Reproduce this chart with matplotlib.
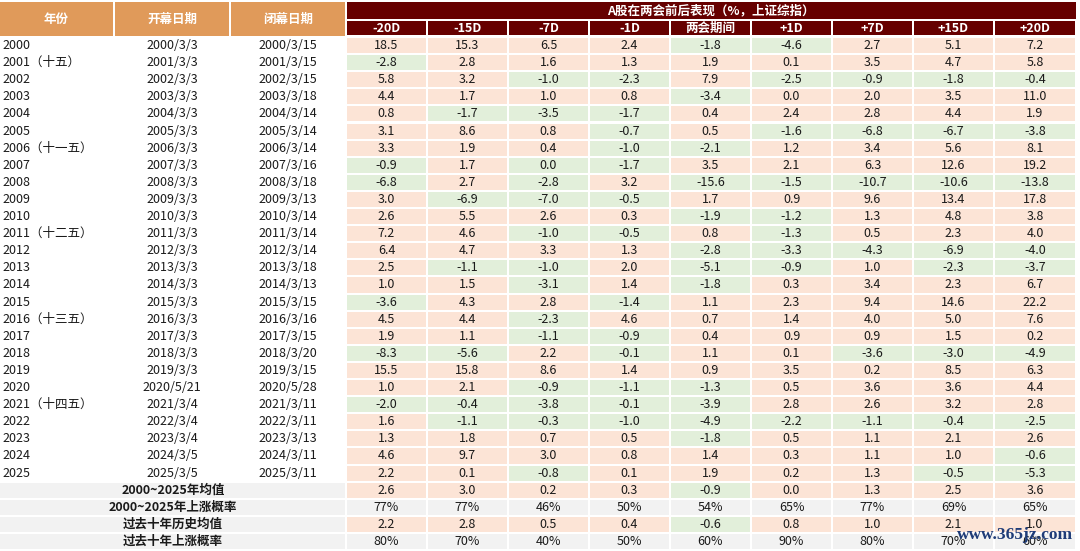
import matplotlib
matplotlib.use("Agg")
import matplotlib.pyplot as plt
from matplotlib.patches import Rectangle

plt.rcParams['font.family'] = ['Noto Sans CJK SC', 'DejaVu Sans']

# ---------------- data ----------------
title = "A股在两会前后表现（%，上证综指）"
left_headers = ["年份", "开幕日期", "闭幕日期"]
col_headers = ["-20D", "-15D", "-7D", "-1D", "两会期间", "+1D", "+7D", "+15D", "+20D"]

years = ["2000", "2001（十五）", "2002", "2003", "2004", "2005", "2006（十一五）", "2007",
         "2008", "2009", "2010", "2011（十二五）", "2012", "2013", "2014", "2015",
         "2016（十三五）", "2017", "2018", "2019", "2020", "2021（十四五）", "2022",
         "2023", "2024", "2025"]
open_dates = ["2000/3/3", "2001/3/3", "2002/3/3", "2003/3/3", "2004/3/3", "2005/3/3",
              "2006/3/3", "2007/3/3", "2008/3/3", "2009/3/3", "2010/3/3", "2011/3/3",
              "2012/3/3", "2013/3/3", "2014/3/3", "2015/3/3", "2016/3/3", "2017/3/3",
              "2018/3/3", "2019/3/3", "2020/5/21", "2021/3/4", "2022/3/4", "2023/3/4",
              "2024/3/5", "2025/3/5"]
close_dates = ["2000/3/15", "2001/3/15", "2002/3/15", "2003/3/18", "2004/3/14", "2005/3/14",
               "2006/3/14", "2007/3/16", "2008/3/18", "2009/3/13", "2010/3/14", "2011/3/14",
               "2012/3/14", "2013/3/18", "2014/3/13", "2015/3/15", "2016/3/16", "2017/3/15",
               "2018/3/20", "2019/3/15", "2020/5/28", "2021/3/11", "2022/3/11", "2023/3/13",
               "2024/3/11", "2025/3/11"]

m20 = [18.5, -2.8, 5.8, 4.4, 0.8, 3.1, 3.3, -0.9, -6.8, 3.0, 2.6, 7.2, 6.4, 2.5, 1.0, -3.6,
       4.5, 1.9, -8.3, 15.5, 1.0, -2.0, 1.6, 1.3, 4.6, 2.2]
m15 = [15.3, 2.8, 3.2, 1.7, -1.7, 8.6, 1.9, 1.7, 2.7, -6.9, 5.5, 4.6, 4.7, -1.1, 1.5, 4.3,
       4.4, 1.1, -5.6, 15.8, 2.1, -0.4, -1.1, 1.8, 9.7, 0.1]
m7 = [6.5, 1.6, -1.0, 1.0, -3.5, 0.8, 0.4, -0.04, -2.8, -7.0, 2.6, -1.0, 3.3, -1.0, -3.1, 2.8,
      -2.3, -1.1, 2.2, 8.6, -0.9, -3.8, -0.3, 0.7, 3.0, -0.8]
m1 = [2.4, 1.3, -2.3, 0.8, -1.7, -0.7, -1.0, -1.7, 3.2, -0.5, 0.3, -0.5, 1.3, 2.0, 1.4, -1.4,
      4.6, -0.9, -0.1, 1.4, -1.1, -0.1, -1.0, 0.5, 0.8, 0.1]
during = [-1.8, 1.9, 7.9, -3.4, 0.4, 0.5, -2.1, 3.5, -15.6, 1.7, -1.9, 0.8, -2.8, -5.1, -1.8, 1.1,
          0.7, 0.4, 1.1, 0.9, -1.3, -3.9, -4.9, -1.8, 1.4, 1.9]
p1 = [-4.6, 0.1, -2.5, 0.0, 2.4, -1.6, 1.2, 2.1, -1.5, 0.9, -1.2, -1.3, -3.3, -0.9, 0.3, 2.3,
      1.4, 0.9, 0.1, 3.5, 0.5, 2.8, -2.2, 0.5, 0.3, 0.2]
p7 = [2.7, 3.5, -0.9, 2.0, 2.8, -6.8, 3.4, 6.3, -10.7, 9.6, 1.3, 0.5, -4.3, 1.0, 3.4, 9.4,
      4.0, 0.9, -3.6, 0.2, 3.6, 2.6, -1.1, 1.1, 1.1, 1.3]
p15 = [5.1, 4.7, -1.8, 3.5, 4.4, -6.7, 5.6, 12.6, -10.6, 13.4, 4.8, 2.3, -6.9, -2.3, 2.3, 14.6,
       5.0, 1.5, -3.0, 8.5, 3.6, 3.2, -0.4, 2.1, 1.0, -0.5]
p20 = [7.2, 5.8, -0.4, 11.0, 1.9, -3.8, 8.1, 19.2, -13.8, 17.8, 3.8, 4.0, -4.0, -3.7, 6.7, 22.2,
       7.6, 0.2, -4.9, 6.3, 4.4, 2.8, -2.5, 2.6, -0.6, -5.3]

stat_labels = ["2000~2025年均值", "2000~2025年上涨概率", "过去十年历史均值", "过去十年上涨概率"]
mean_all = [2.6, 3.0, 0.2, 0.3, -0.9, 0.0, 1.3, 2.5, 3.6]
prob_all = [77, 77, 46, 50, 54, 65, 77, 69, 65]
mean_10y = [2.2, 2.8, 0.5, 0.4, -0.6, 0.8, 1.0, 2.1, 1.0]
prob_10y = [80, 70, 40, 50, 60, 90, 80, 70, 60]

watermark = "www.365jz.com"

# ---------------- style ----------------
ORANGE = "#E09A5A"
DARKRED = "#660000"
PINK = "#FCE4D6"
GREEN = "#E2EFDA"
GRAY = "#F2F2F2"
TXT = "#1a1a1a"
FS = 9

col_edges = [0, 114, 230, 346, 427, 508, 589, 670, 751, 832, 913, 994, 1076]
row_top = 37.0
row_h = 17.1
g = 1.0  # half gap

fig = plt.figure(figsize=(10.8, 5.51), dpi=100)
ax = fig.add_axes([0, 0, 1, 1])
ax.set_xlim(0, 1080)
ax.set_ylim(551, 0)
ax.axis("off")


def rect(x0, y0, x1, y1, color):
    ax.add_patch(Rectangle((x0, y0), x1 - x0, y1 - y0, facecolor=color, edgecolor="none"))


def fmt(v):
    s = f"{v:.1f}"
    return "0.0" if s == "-0.0" else s


# header
for i, h in enumerate(left_headers):
    x0, x1 = col_edges[i] + (0 if i == 0 else g), col_edges[i + 1] - g
    rect(x0, 2, x1, 35.5, ORANGE)
    ax.text((x0 + x1) / 2, 19, h, ha="center", va="center", color="white",
            fontsize=FS, fontweight="bold")
rect(col_edges[3] + g, 2, col_edges[-1], 19.3, DARKRED)
ax.text((col_edges[3] + col_edges[-1]) / 2, 10.5, title, ha="center", va="center",
        color="white", fontsize=FS, fontweight="bold")
for j, h in enumerate(col_headers):
    x0, x1 = col_edges[3 + j] + g, col_edges[4 + j] - g
    rect(x0, 20.8, x1, 35.5, DARKRED)
    ax.text((x0 + x1) / 2, 28.3, h, ha="center", va="center", color="white",
            fontsize=FS, fontweight="bold")

cols = [m20, m15, m7, m1, during, p1, p7, p15, p20]

# year rows
for r in range(len(years)):
    y0 = row_top + r * row_h + g
    y1 = row_top + (r + 1) * row_h - g
    yc = (y0 + y1) / 2
    ax.text(2, yc, years[r], ha="left", va="center", fontsize=FS, color=TXT)
    ax.text((col_edges[1] + col_edges[2]) / 2, yc, open_dates[r], ha="center", va="center",
            fontsize=FS, color=TXT)
    ax.text((col_edges[2] + col_edges[3]) / 2, yc, close_dates[r], ha="center", va="center",
            fontsize=FS, color=TXT)
    for j, c in enumerate(cols):
        v = c[r]
        x0, x1 = col_edges[3 + j] + g, col_edges[4 + j] - g
        rect(x0, y0, x1, y1, PINK if v >= 0 else GREEN)
        ax.text((x0 + x1) / 2, yc, fmt(v), ha="center", va="center", fontsize=FS, color=TXT)

# stat rows
stats = [mean_all, prob_all, mean_10y, prob_10y]
for k, (lab, vals) in enumerate(zip(stat_labels, stats)):
    r = len(years) + k
    y0 = row_top + r * row_h + g
    y1 = row_top + (r + 1) * row_h - g
    yc = (y0 + y1) / 2
    rect(0, y0, col_edges[3] - g, y1, GRAY)
    ax.text(col_edges[3] / 2, yc, lab, ha="center", va="center", fontsize=FS,
            fontweight="bold", color=TXT)
    is_prob = (k % 2 == 1)
    for j, v in enumerate(vals):
        x0, x1 = col_edges[3 + j] + g, col_edges[4 + j] - g
        if is_prob:
            rect(x0, y0, x1, y1, GRAY)
            s = f"{v}%"
        else:
            rect(x0, y0, x1, y1, PINK if v >= 0 else GREEN)
            s = fmt(v)
        ax.text((x0 + x1) / 2, yc, s, ha="center", va="center", fontsize=FS, color=TXT)

ax.text(1073, 535, watermark, ha="right", va="center", fontsize=12.5, fontweight="bold",
        family=["Liberation Serif", "DejaVu Serif"], color="#1F3C78")

fig.savefig("out.png", dpi=100)
